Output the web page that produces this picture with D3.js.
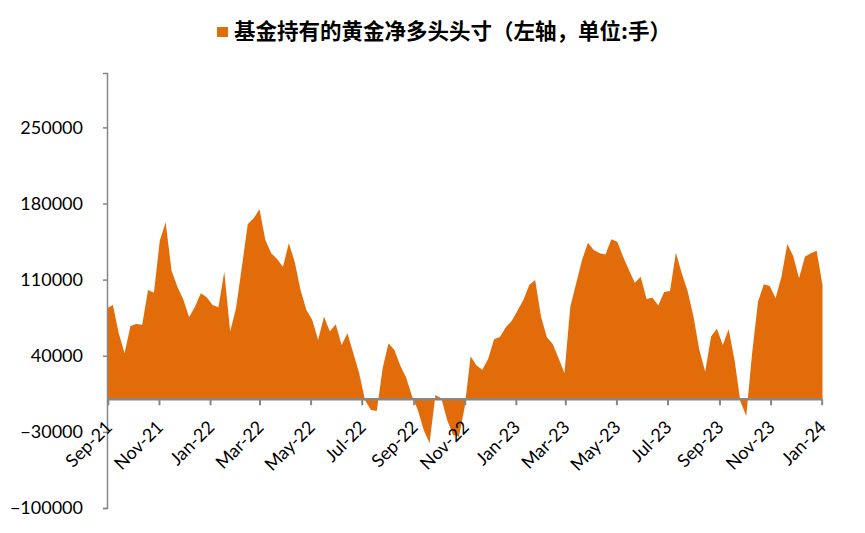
<!DOCTYPE html>
<html><head><meta charset="utf-8">
<script src="https://cdn.jsdelivr.net/npm/d3@7"></script>
<style>
html,body{margin:0;padding:0;background:#fff;}
svg{display:block;}
</style></head>
<body>
<svg id="chart" width="865" height="533"></svg>
<script>
// ---- data ----
const seriesName = "基金持有的黄金净多头头寸（左轴，单位:手）";
const startDate = "2021-08-31"; // weekly observations
const netLong = [
  83700, 86700, 60700, 42300, 67400, 69200, 68600, 100500, 98000, 145800,
  162700, 118300, 103500, 91900, 75400, 85100, 97500, 93800, 86700, 84600,
  117300, 62200, 83700, 121900, 160900, 166400, 174700, 146500, 134200, 129000,
  121900, 143400, 126500, 100500, 82100, 72900, 54500, 76000, 62200, 69000,
  49900, 60700, 42300, 23900, -1000, -9800, -10800, 28500, 51500, 45300,
  31000, 20000, 3000, -9800, -28200, -40500, 4000, 900, -19000, -32800,
  -34400, -6800, 39500, 31000, 27200, 37200, 55200, 57200, 66200, 72000,
  81500, 91300, 105100, 109700, 76000, 57000, 50800, 37700, 23900, 85100,
  106700, 128100, 144000, 137300, 134200, 133000, 147100, 144900, 131100, 118900,
  107200, 112700, 92200, 93400, 86100, 98700, 99600, 134800, 115900, 99600,
  76000, 45300, 25400, 57600, 64900, 49900, 64400, 36100, -2000, -15400,
  42300, 89700, 105700, 104200, 92900, 112700, 142800, 131800, 111300, 131100,
  134200, 136600, 105000
];
const yTicks = [-100000, -30000, 40000, 110000, 180000, 250000];
const yDomain = [-100000, 300000];
const xTickLabels = ["Sep-21","Nov-21","Jan-22","Mar-22","May-22","Jul-22","Sep-22","Nov-22",
                     "Jan-23","Mar-23","May-23","Jul-23","Sep-23","Nov-23","Jan-24"];

// ---- build ----
(function () {
const parseLabel = d3.timeParse("%b-%y");
const t0 = d3.timeParse("%Y-%m-%d")(startDate);
const data = netLong.map((v, i) => ({ date: d3.timeWeek.offset(t0, i), value: v }));

const svg = d3.select("#chart");
const mLeft = 107, mRight = 822.5, mTop = 73, mBottom = 508;
const axisColor = "#868686";
const fill = "#E36C0A";
const font = "Lato, 'Open Sans', sans-serif";

const x = d3.scaleTime().domain(d3.extent(data, d => d.date)).range([mLeft, mRight]);
const y = d3.scaleLinear().domain(yDomain).range([mBottom, mTop]);

// area
const area = d3.area()
  .x(d => x(d.date))
  .y0(y(0))
  .y1(d => y(d.value));
svg.append("path").datum(data).attr("d", area).attr("fill", fill);

// y axis
const yAxis = d3.axisLeft(y).tickValues(yTicks).tickSize(4).tickPadding(20).tickFormat(d3.format("d"));
const gy = svg.append("g").attr("transform", `translate(${mLeft},0)`).call(yAxis);
gy.select(".domain").attr("stroke", axisColor).attr("stroke-width", 1.5);
gy.selectAll(".tick line").attr("stroke", axisColor).attr("stroke-width", 1.5);
gy.selectAll(".tick text").attr("font-family", font).attr("font-size", 18).attr("fill", "#000");

// x axis at zero
const xTickDates = xTickLabels.map(s => d3.timeMonth.floor(parseLabel(s)));
const xAxis = d3.axisBottom(x).tickValues(xTickDates).tickSize(6).tickFormat(d3.timeFormat("%b-%y"));
const gx = svg.append("g").attr("transform", `translate(0,${y(0)})`).call(xAxis);
gx.select(".domain").attr("stroke", axisColor).attr("stroke-width", 2.5).attr("d", `M${mLeft},0H${mRight}`);
gx.selectAll(".tick line").attr("stroke", axisColor).attr("stroke-width", 2);
gx.selectAll(".tick text")
  .attr("font-family", font).attr("font-size", 18).attr("fill", "#000")
  .attr("text-anchor", "end")
  .attr("y", 0).attr("dy", 0)
  .attr("transform", "translate(5,29) rotate(-45)");

// legend / title
const lg = svg.append("g");
lg.append("rect").attr("x", 217).attr("y", 27).attr("width", 11).attr("height", 10).attr("fill", fill);
lg.append("text").attr("x", 234).attr("y", 39)
  .attr("font-family", "'Noto Sans CJK SC', sans-serif").attr("font-weight", "bold")
  .attr("font-size", 21.5).attr("fill", "#000").text(seriesName);
})();
</script>
</body></html>
